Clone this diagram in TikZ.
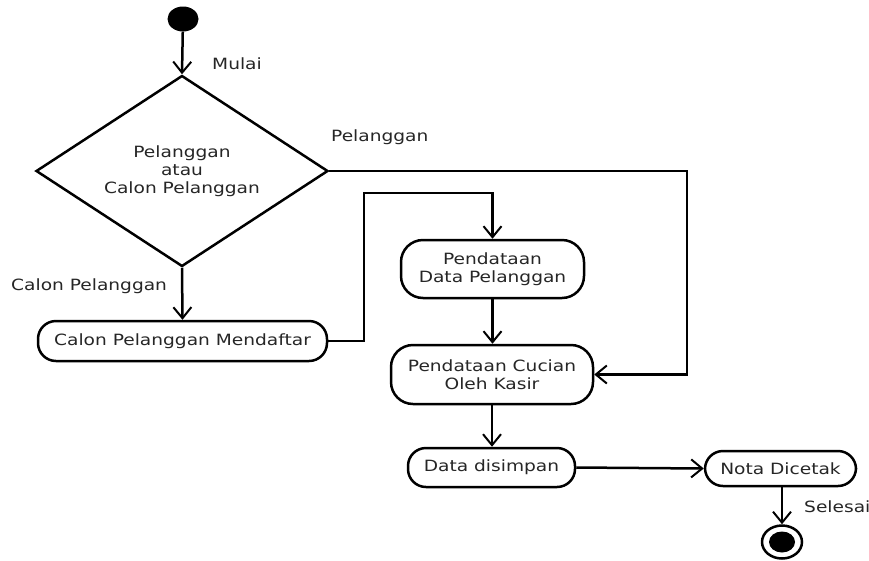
\documentclass[tikz,border=0pt]{standalone}
\usepackage{fontspec}
\setmainfont{DejaVu Sans}[FakeStretch=1.2]
\usetikzlibrary{shapes.geometric,arrows.meta}
\begin{document}
\begin{tikzpicture}[x=1pt,y=-1pt,
  every node/.style={font=\fontsize{15.5}{18}\selectfont, text=black!85},
  act/.style={draw, line width=2.5pt, rounded corners=18pt, align=center, inner sep=0pt},
  arr/.style={draw, line width=2.5pt, -{Straight Barb[length=11pt,width=18pt,line width=2pt]}},
  lbl/.style={anchor=west, inner sep=0pt}]
\useasboundingbox (0,0) rectangle (869,560);
\fill (183,19) ellipse [x radius=15.5, y radius=12.5];
\node[ellipse, minimum width=31pt, minimum height=25pt, inner sep=0pt] (start) at (183,19) {};
\node[diamond, draw, line width=2.5pt, aspect=1.53, minimum width=292pt, minimum height=191pt, inner sep=0pt, align=center] (dec) at (182,171) {Pelanggan\\atau\\Calon Pelanggan};
\node[act, minimum width=289pt, minimum height=40pt] (daftar) at (182.5,341) {Calon Pelanggan Mendaftar};
\node[act, minimum width=183pt, minimum height=58pt, rounded corners=22pt] (pdata) at (492.5,269) {Pendataan\\Data Pelanggan};
\node[act, minimum width=202pt, minimum height=59pt, rounded corners=22pt] (cucian) at (492,374.5) {Pendataan Cucian\\Oleh Kasir};
\node[act, minimum width=167pt, minimum height=39pt] (simpan) at (491.5,467.5) {Data disimpan};
\node[act, minimum width=151pt, minimum height=35pt] (nota) at (780.5,468.5) {Nota Dicetak};
\node[ellipse, draw, line width=2.5pt, minimum width=40pt, minimum height=33pt, inner sep=0pt] (stop) at (782,542) {};
\fill (stop.center) ellipse [x radius=13, y radius=10.5];
\coordinate (c1) at (687,171);
\coordinate (c2) at (364,193);
\draw[arr] (start) -- (dec.north);
\draw[arr] (dec.east) -- (c1) |- (cucian.east);
\draw[arr] (dec.south) -- (daftar.north);
\draw[arr] (daftar.east) -| (c2) -| (pdata.north);
\draw[arr] (pdata.south) -- (pdata.south |- cucian.north);
\draw[arr] (cucian.south) -- (cucian.south |- simpan.north);
\draw[arr] (simpan.east) -- (nota.west);
\draw[arr] (nota.south -| stop.north) -- (stop.north);
\node[lbl] (lmulai) at (212,64) {Mulai};
\node[lbl] (lpel) at (331,137) {Pelanggan};
\node[lbl] (lcalon) at (11,286) {Calon Pelanggan};
\node[lbl] (lsel) at (804,507) {Selesai};
\end{tikzpicture}
\end{document}
